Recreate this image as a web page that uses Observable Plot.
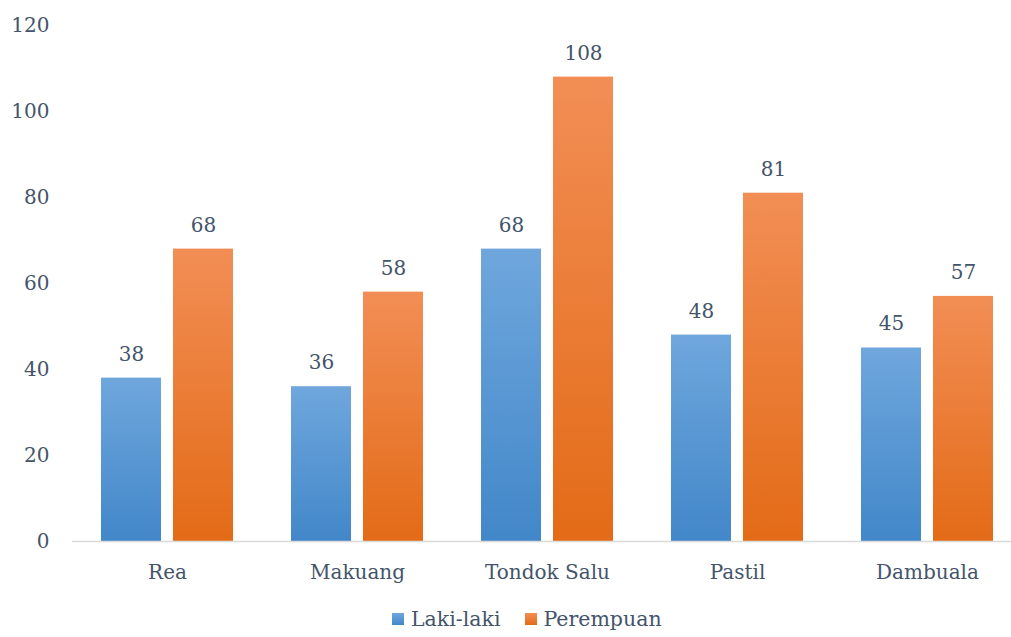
<!DOCTYPE html>
<html>
<head>
<meta charset="utf-8">
<script src="https://cdn.jsdelivr.net/npm/d3@7"></script>
<script src="https://cdn.jsdelivr.net/npm/@observablehq/plot@0.6"></script>
<style>
  html, body { margin: 0; padding: 0; background: #fff; }
  #legend { display: flex; align-items: center; height: 37px; padding-top: 4px; padding-left: 392px; font-family: "DejaVu Serif", serif; font-size: 20.5px; color: #44546a; }
  .item { display: flex; align-items: center; margin-right: 24px; }
  .sw { width: 12px; height: 12px; margin-right: 7px; }
</style>
</head>
<body>
<div id="chart"></div>
<div id="legend"></div>
<script>
const categories = ["Rea", "Makuang", "Tondok Salu", "Pastil", "Dambuala"];
const series = ["Laki-laki", "Perempuan"];
const lakiLaki = [38, 36, 68, 48, 45];
const perempuan = [68, 58, 108, 81, 57];
const yTicks = [0, 20, 40, 60, 80, 100, 120];

const dataL = categories.map((c, i) => ({cat: c, series: series[0], value: lakiLaki[i]}));
const dataP = categories.map((c, i) => ({cat: c, series: series[1], value: perempuan[i]}));

const textColor = "#44546a";

const chart = Plot.plot({
  width: 1011,
  height: 596,
  marginLeft: 72,
  marginRight: 0,
  marginTop: 25,
  marginBottom: 55,
  style: {fontFamily: "DejaVu Serif, serif", fontSize: "20px", color: textColor, background: "#fff", overflow: "visible"},
  x: {domain: categories, range: [72, 1022], padding: 0},
  y: {domain: [0, 120], range: [541, 25]},
  marks: [
    Plot.barY(dataL, {x: "cat", y: "value", fill: "url(#gBlue)", insetLeft: 29, insetRight: 101}),
    Plot.barY(dataP, {x: "cat", y: "value", fill: "url(#gOrange)", insetLeft: 101, insetRight: 29}),
    Plot.ruleY([0], {stroke: "#d9d9d9", strokeWidth: 1.5}),
    Plot.text(dataL, {x: "cat", y: "value", text: d => String(d.value), dx: -36, dy: -24, fill: textColor, fontSize: 20}),
    Plot.text(dataP, {x: "cat", y: "value", text: d => String(d.value), dx: 36, dy: -24, fill: textColor, fontSize: 20}),
    Plot.axisX({tickSize: 0, tickPadding: 23, fontSize: 20, label: null}),
    Plot.axisY({ticks: yTicks, tickSize: 0, tickPadding: 23, fontSize: 20, label: null})
  ]
});

const svg = d3.select(chart);
const defs = svg.insert("defs", ":first-child");
function grad(id, top, bottom) {
  const g = defs.append("linearGradient").attr("id", id).attr("x1", 0).attr("y1", 0).attr("x2", 0).attr("y2", 1);
  g.append("stop").attr("offset", "0%").attr("stop-color", top);
  g.append("stop").attr("offset", "100%").attr("stop-color", bottom);
}
grad("gBlue", "#6fa7dd", "#4287c9");
grad("gOrange", "#f28e55", "#e36b17");

document.getElementById("chart").appendChild(chart);

const legend = document.getElementById("legend");
const legendColors = ["linear-gradient(#6fa7dd,#4287c9)", "linear-gradient(#f28e55,#e36b17)"];
series.forEach((s, i) => {
  const item = document.createElement("div");
  item.className = "item";
  const sw = document.createElement("div");
  sw.className = "sw";
  sw.style.background = legendColors[i];
  const label = document.createElement("span");
  label.textContent = s;
  item.appendChild(sw);
  item.appendChild(label);
  legend.appendChild(item);
});
</script>
</body>
</html>
